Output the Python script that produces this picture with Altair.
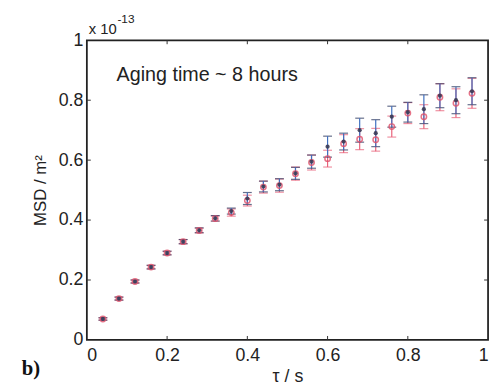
import altair as alt
import pandas as pd

tau = [0.04, 0.08, 0.12, 0.16, 0.20, 0.24, 0.28, 0.32, 0.36, 0.40, 0.44, 0.48,
       0.52, 0.56, 0.60, 0.64, 0.68, 0.72, 0.76, 0.80, 0.84, 0.88, 0.92, 0.96]
red_y = [0.070, 0.138, 0.195, 0.243, 0.290, 0.328, 0.365, 0.405, 0.425, 0.465, 0.510, 0.515,
         0.555, 0.592, 0.605, 0.655, 0.670, 0.668, 0.712, 0.757, 0.745, 0.810, 0.790, 0.823]
red_err = [0.004, 0.005, 0.005, 0.006, 0.006, 0.007, 0.008, 0.009, 0.012, 0.018, 0.020, 0.022,
           0.022, 0.025, 0.028, 0.030, 0.035, 0.038, 0.035, 0.035, 0.040, 0.045, 0.048, 0.050]
blue_y = [0.070, 0.138, 0.195, 0.243, 0.290, 0.328, 0.366, 0.406, 0.430, 0.472, 0.512, 0.518,
          0.556, 0.595, 0.645, 0.662, 0.700, 0.690, 0.745, 0.760, 0.770, 0.815, 0.800, 0.830]
blue_err = [0.004, 0.005, 0.005, 0.006, 0.006, 0.007, 0.008, 0.009, 0.010, 0.020, 0.018, 0.020,
            0.020, 0.022, 0.035, 0.028, 0.040, 0.045, 0.035, 0.033, 0.048, 0.040, 0.045, 0.045]
tick_vals = [0.2, 0.4, 0.6, 0.8]

W, H = 407, 304
FONT = "Liberation Sans"
TXT = "#222"

red = pd.DataFrame({"tau": tau, "y": red_y,
                    "lo": [a - b for a, b in zip(red_y, red_err)],
                    "hi": [a + b for a, b in zip(red_y, red_err)]})
blue = pd.DataFrame({"tau": tau, "y": blue_y,
                     "lo": [a - b for a, b in zip(blue_y, blue_err)],
                     "hi": [a + b for a, b in zip(blue_y, blue_err)]})
ticks = pd.DataFrame({"v": tick_vals})

xs = alt.Scale(domain=[0, 1], nice=False)
ys = alt.Scale(domain=[0, 1], nice=False)

x_axis = alt.Axis(values=[0, 0.2, 0.4, 0.6, 0.8, 1], format="~g", ticks=False, grid=False,
                  domain=False, labelFontSize=18, labelFont=FONT, labelColor=TXT,
                  labelPadding=7, title="τ / s", titleFont=FONT, titleFontSize=18,
                  titleFontWeight="normal", titleColor=TXT, titlePadding=3)
y_axis = alt.Axis(values=[0, 0.2, 0.4, 0.6, 0.8, 1], format="~g", ticks=False, grid=False,
                  domain=False, labelFontSize=18, labelFont=FONT, labelColor=TXT,
                  labelPadding=4, title="MSD / m²", titleFont=FONT, titleFontSize=17,
                  titleFontWeight="normal", titleColor=TXT, titlePadding=9)

X = alt.X("tau:Q", scale=xs, axis=x_axis)

red_bar = alt.Chart(red).mark_errorbar(ticks=alt.MarkConfig(size=9, color="#e8627a"),
                                       color="#e8627a", thickness=1.2).encode(
    x=X, y=alt.Y("lo:Q", scale=ys, axis=y_axis), y2="hi:Q")
blue_bar = alt.Chart(blue).mark_errorbar(ticks=alt.MarkConfig(size=9, color="#23305a"),
                                         color="#3f6fc0", thickness=1.2).encode(
    x=X, y=alt.Y("lo:Q", scale=ys, axis=y_axis), y2="hi:Q")
red_pts = alt.Chart(red).mark_point(shape="circle", size=30, color="#e0506a",
                                    strokeWidth=1.5, filled=False, opacity=0.8).encode(
    x=X, y=alt.Y("y:Q", scale=ys, axis=y_axis))
blue_pts = alt.Chart(blue).mark_point(shape="circle", size=18, color="#3a3a55",
                                      filled=True, opacity=0.9).encode(
    x=X, y=alt.Y("y:Q", scale=ys, axis=y_axis))

tick_style = dict(color="#333", strokeWidth=1)
tb = alt.Chart(ticks).mark_rule(**tick_style).encode(
    x=alt.X("v:Q", scale=xs, axis=x_axis), y=alt.value(H), y2=alt.value(H - 4))
tt = alt.Chart(ticks).mark_rule(**tick_style).encode(
    x=alt.X("v:Q", scale=xs, axis=x_axis), y=alt.value(0), y2=alt.value(4))
tl = alt.Chart(ticks).mark_rule(**tick_style).encode(
    y=alt.Y("v:Q", scale=ys, axis=y_axis), x=alt.value(0), x2=alt.value(4))
tr = alt.Chart(ticks).mark_rule(**tick_style).encode(
    y=alt.Y("v:Q", scale=ys, axis=y_axis), x=alt.value(W), x2=alt.value(W - 4))

ann = pd.DataFrame({"tau": [0.074], "y": [0.885], "t": ["Aging time ~ 8 hours"]})
label = alt.Chart(ann).mark_text(align="left", baseline="middle", font=FONT, fontSize=20,
                                 color=TXT).encode(
    x=alt.X("tau:Q", scale=xs, axis=x_axis), y=alt.Y("y:Q", scale=ys, axis=y_axis), text="t:N")

mult = alt.Chart(pd.DataFrame({"t": ["x 10"]})).mark_text(
    align="left", baseline="alphabetic", font=FONT, fontSize=15, color=TXT).encode(
    x=alt.value(2), y=alt.value(-6), text="t:N")
expo = alt.Chart(pd.DataFrame({"t": ["-13"]})).mark_text(
    align="left", baseline="alphabetic", font=FONT, fontSize=12, color=TXT).encode(
    x=alt.value(31), y=alt.value(-18), text="t:N")
panel = alt.Chart(pd.DataFrame({"t": ["b)"]})).mark_text(
    align="left", baseline="alphabetic", font="Liberation Serif", fontSize=21,
    fontWeight="bold", color="#111").encode(
    x=alt.value(-66), y=alt.value(340), text="t:N")

chart = alt.layer(red_bar, blue_bar, red_pts, blue_pts, tb, tt, tl, tr,
                  label, mult, expo, panel).properties(
    width=W, height=H,
    autosize=alt.AutoSizeParams(type="none"),
    padding={"left": 80, "top": 30, "right": 4, "bottom": 45},
    background="white",
).configure_view(stroke="#222", strokeWidth=1.8)

chart.save("out.html", embed_options={"renderer": "svg", "actions": False})
